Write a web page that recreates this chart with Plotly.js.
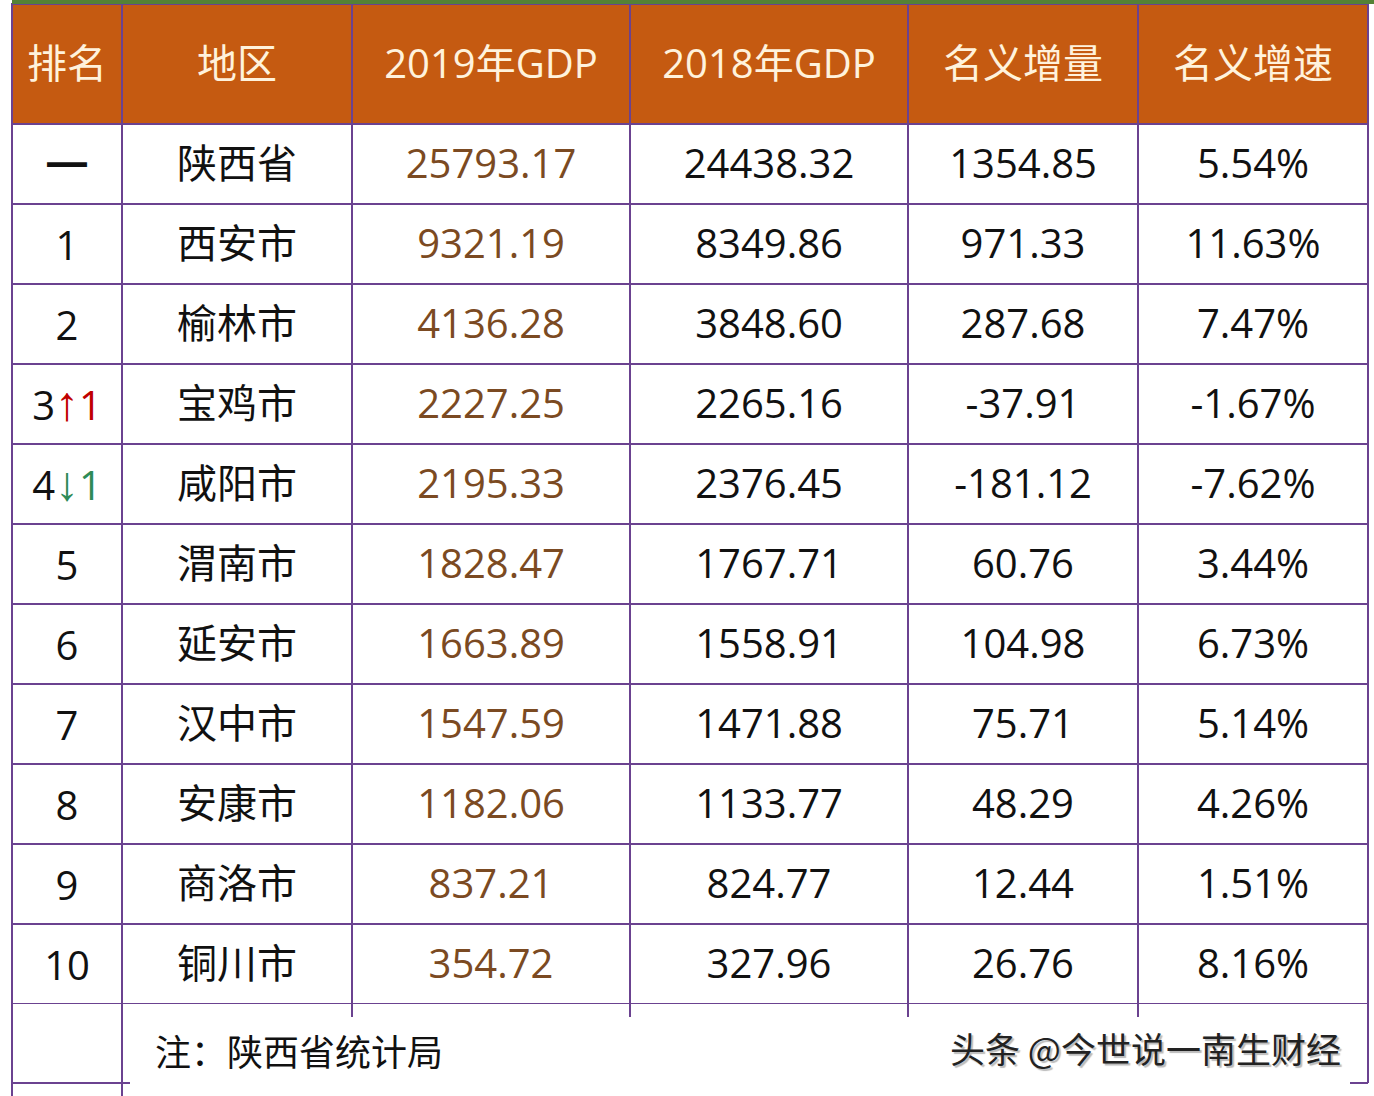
<!DOCTYPE html>
<html>
<head>
<meta charset="utf-8">
<script src="https://cdn.plot.ly/plotly-3.0.1.min.js"></script>
<style>html,body{margin:0;padding:0;background:#fff;}#chart{width:1374px;height:1096px;}</style>
</head>
<body>
<div id="chart"></div>
<script>
const headers = ["排名", "地区", "2019年GDP", "2018年GDP", "名义增量", "名义增速"];
const ranks = ["━", "1", "2", "3", "4", "5", "6", "7", "8", "9", "10"];
const rankChange = ["", "", "", "↑1", "↓1", "", "", "", "", "", ""];
const regions = ["陕西省", "西安市", "榆林市", "宝鸡市", "咸阳市", "渭南市", "延安市", "汉中市", "安康市", "商洛市", "铜川市"];
const gdp2019 = ["25793.17", "9321.19", "4136.28", "2227.25", "2195.33", "1828.47", "1663.89", "1547.59", "1182.06", "837.21", "354.72"];
const gdp2018 = ["24438.32", "8349.86", "3848.60", "2265.16", "2376.45", "1767.71", "1558.91", "1471.88", "1133.77", "824.77", "327.96"];
const increment = ["1354.85", "971.33", "287.68", "-37.91", "-181.12", "60.76", "104.98", "75.71", "48.29", "12.44", "26.76"];
const growth = ["5.54%", "11.63%", "7.47%", "-1.67%", "-7.62%", "3.44%", "6.73%", "5.14%", "4.26%", "1.51%", "8.16%"];
const note = "注：陕西省统计局";
const watermark = "头条 @今世说一南生财经";

const W = 1374, H = 1096;
const px = v => v / W;
const py = v => 1 - v / H;
const LINE = "#6B4290";
const CLEAR = "rgba(0,0,0,0)";
const FONT = "Open Sans, Noto Sans CJK SC";
const colWidths = [110, 230, 278, 278, 230, 230];
const cols = [ranks, regions, gdp2019, gdp2018, increment, growth];
const blankCols = cols.map(c => c.map(() => ""));

// rank labels with coloured change markers (markup in every cell so all sit alike)
const rankText = ranks.map((r, i) => {
  const ch = rankChange[i];
  if (!ch) return "<span>" + r + "</span>";
  const col = ch[0] === "↑" ? "#C00000" : "#2E8B57";
  return r + "<span style=\"color:" + col + "\"><span style=\"font-family:Liberation Sans;font-size:48px\">" + ch[0] + "</span>" + ch.slice(1) + "</span><br>";
});

// grid: fills and lines
const grid = {
  type: "table",
  domain: {x: [px(12), px(1368)], y: [py(1004), py(4)]},
  columnwidth: colWidths,
  header: {
    values: headers.map(() => ""),
    height: 120,
    fill: {color: "#C55A11"},
    line: {color: LINE, width: 2},
    font: {family: FONT, size: 40}
  },
  cells: {
    values: blankCols,
    height: 80,
    fill: {color: "#FFFFFF"},
    line: {color: LINE, width: 2},
    font: {family: FONT, size: 40}
  }
};

// text layer (all columns but rank body), offset so text sits centred in the grid cells
const text = {
  type: "table",
  domain: {x: [px(12), px(1368)], y: [py(1020), py(40)]},
  columnwidth: colWidths,
  header: {
    values: headers,
    align: "center",
    height: 100,
    fill: {color: CLEAR},
    line: {color: CLEAR, width: 0},
    font: {family: FONT, size: 40, color: "#FFF2DC"}
  },
  cells: {
    values: [ranks.map(() => ""), regions, gdp2019, gdp2018, increment, growth],
    align: "center",
    height: 80,
    fill: {color: CLEAR},
    line: {color: CLEAR, width: 0},
    font: {family: FONT, size: 40, color: ["#111111", "#111111", "#7B4A22", "#111111", "#111111", "#111111"]}
  }
};

// rank body text layer
const rankLayer = {
  type: "table",
  domain: {x: [px(12), px(122)], y: [py(1009), py(109)]},
  columnwidth: [110],
  header: {
    values: [""],
    height: 20,
    fill: {color: CLEAR},
    line: {color: CLEAR, width: 0},
    font: {family: FONT, size: 10}
  },
  cells: {
    values: [rankText],
    align: "center",
    height: 80,
    fill: {color: CLEAR},
    line: {color: CLEAR, width: 0},
    font: {family: FONT, size: 40, color: "#111111"}
  }
};

const L = (x0, y0, x1, y1) => ({type: "line", xref: "paper", yref: "paper", x0: px(x0), y0: py(y0), x1: px(x1), y1: py(y1), line: {color: LINE, width: 2}});
const shapes = [
  {type: "rect", xref: "paper", yref: "paper", x0: px(12), x1: px(1374), y0: py(4), y1: py(0), fillcolor: "#548235", line: {width: 0}},
  L(12, 1004, 12, 1096),
  L(122, 1004, 122, 1096),
  L(352, 1004, 352, 1017),
  L(630, 1004, 630, 1017),
  L(908, 1004, 908, 1017),
  L(1138, 1004, 1138, 1017),
  L(1368, 1004, 1368, 1083),
  L(12, 1083, 130, 1083),
  L(1350, 1083, 1368, 1083)
];

const annotations = [
  {text: note, xref: "paper", yref: "paper", x: px(153), y: py(1050), xanchor: "left", yanchor: "middle", showarrow: false,
   font: {family: "Noto Sans CJK SC", size: 36, color: "#111111"}},
  {text: watermark, xref: "paper", yref: "paper", x: px(1343), y: py(1047), xanchor: "right", yanchor: "middle", showarrow: false,
   font: {family: "Noto Sans CJK SC", size: 35, color: "#222222", shadow: "2px 2px 1px #bbbbbb"}}
];

Plotly.newPlot("chart", [grid, text, rankLayer], {
  width: W, height: H,
  margin: {l: 0, r: 0, t: 0, b: 0},
  paper_bgcolor: "#FFFFFF",
  shapes: shapes,
  annotations: annotations,
  showlegend: false
}, {displayModeBar: false, staticPlot: true});
</script>
</body>
</html>
